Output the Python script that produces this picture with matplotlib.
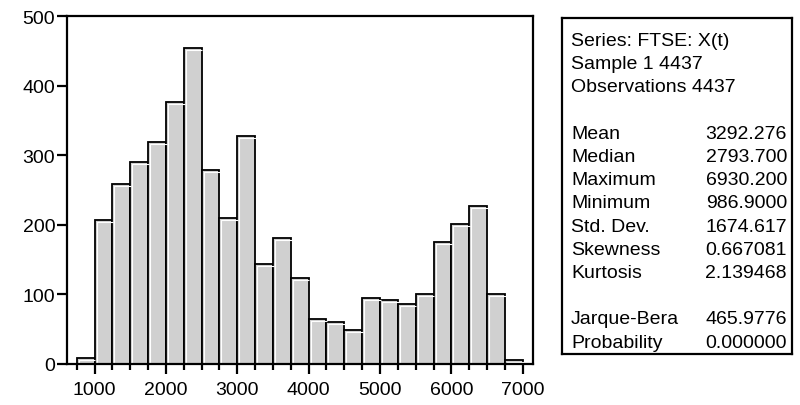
import numpy as np
import matplotlib
matplotlib.use('Agg')
import matplotlib.pyplot as plt
import matplotlib.transforms as mtransforms
from matplotlib.ticker import MultipleLocator

plt.rcParams['font.family'] = ['Liberation Sans', 'DejaVu Sans']

# istogramma FTSE: bin da 250 a partire da 750
bin_start = 750
bin_width = 250
counts = [9, 207, 259, 290, 319, 376, 454, 279, 210, 328, 144, 181, 123,
          64, 61, 49, 95, 92, 86, 100, 175, 201, 227, 100, 6]

header_lines = ["Series: FTSE: X(t)", "Sample 1 4437", "Observations 4437"]
stat_names = ["Mean", "Median", "Maximum", "Minimum", "Std. Dev.",
              "Skewness", "Kurtosis"]
stat_values = ["3292.276", "2793.700", "6930.200", "986.9000", "1674.617",
               "0.667081", "2.139468"]
test_names = ["Jarque-Bera", "Probability"]
test_values = ["465.9776", "0.000000"]

fs = 14
lw_axis = 1.6

fig = plt.figure(figsize=(8.0, 4.06), dpi=100)
ax = fig.add_axes([0.08375, 0.101, 0.583, 0.857])

lefts = bin_start + bin_width * np.arange(len(counts))
ax.bar(lefts, counts, width=bin_width, align='edge', facecolor='#d0d0d0',
       edgecolor='black', linewidth=1.3, zorder=2)

# riflesso bianco sul lato sinistro e in alto di ogni barra
shift = mtransforms.ScaledTranslation(2.0 / 100, -2.0 / 100, fig.dpi_scale_trans)
for l, h in zip(lefts, counts):
    ax.plot([l, l, l + bin_width * 0.93], [0, h, h], color='white', lw=0.8,
            transform=ax.transData + shift, zorder=3, solid_capstyle='butt')

ax.set_xlim(614, 7149)
ax.set_ylim(0, 500)
ax.set_xticks(range(1000, 7001, 1000))
ax.xaxis.set_minor_locator(MultipleLocator(250))
ax.set_yticks(range(0, 501, 100))
ax.tick_params(axis='both', which='both', direction='out', width=lw_axis,
               labelsize=fs, color='black')
ax.tick_params(axis='x', which='major', length=7.5, pad=5)
ax.tick_params(axis='x', which='minor', length=4.5)
ax.tick_params(axis='y', which='major', length=7, pad=1.5)
for sp in ax.spines.values():
    sp.set_linewidth(lw_axis)
    sp.set_zorder(4)

# riquadro con le statistiche
bx = fig.add_axes([0.7025, 0.1256, 0.2875, 0.8274])
bx.set_xticks([])
bx.set_yticks([])
bx.set_xlim(0, 1)
bx.set_ylim(0, 1)
for sp in bx.spines.values():
    sp.set_linewidth(lw_axis)

box_h = 0.8274 * 406
step = 23.2 / box_h
y0 = 1 - (46 - 19) / box_h
xl = (571 - 562) / 230.0
xr = (787 - 562) / 230.0

rows = [(t, "") for t in header_lines] + [None] + \
       list(zip(stat_names, stat_values)) + [None] + \
       list(zip(test_names, test_values))
y = y0
for row in rows:
    if row is not None:
        bx.text(xl, y, row[0], ha='left', va='baseline', fontsize=fs)
        if row[1]:
            bx.text(xr, y, row[1], ha='right', va='baseline', fontsize=fs)
    y -= step

plt.savefig("out.png", dpi=100)
